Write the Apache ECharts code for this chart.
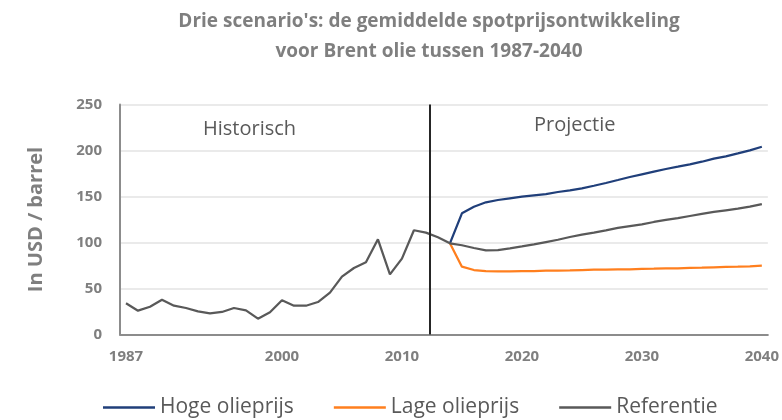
<!DOCTYPE html>
<html>
<head>
<meta charset="utf-8">
<script src="https://cdn.jsdelivr.net/npm/echarts@6/dist/echarts.min.js"></script>
<style>html,body{margin:0;padding:0;background:#fff}#c{width:782px;height:420px}</style>
</head>
<body>
<div id="c"></div>
<script>
// ---- data ----
var refYears = [];
for (var y = 1987; y <= 2040; y++) refYears.push(y);
var referentie = [33.9, 25.9, 30.2, 37.8, 31.3, 28.8, 25.2, 23.0, 24.5, 28.8,
  26.3, 17.2, 24.1, 37.2, 31.3, 31.3, 35.3, 45.5, 62.9, 72.3,
  78.5, 103.5, 65.4, 82.5, 113.3, 110.7, 105.7, 99.1,
  97.0, 94.0, 91.5, 91.8, 93.7, 95.8, 98.0, 100.5, 103.0, 106.0,
  108.5, 110.7, 113.2, 115.8, 117.9, 119.8, 122.3, 124.5, 126.6, 128.8,
  131.0, 133.2, 135.0, 136.8, 138.9, 141.8];
var projYears = [];
for (var p = 2014; p <= 2040; p++) projYears.push(p);
var hoge = [99.1, 131.7, 138.9, 143.7, 146.2, 148.0, 149.8, 151.3, 152.7, 154.9,
  156.7, 158.9, 161.7, 164.7, 167.9, 171.2, 174.1, 177.0, 179.9, 182.4,
  185.0, 187.8, 191.1, 193.7, 196.9, 200.2, 204.1];
var lage = [99.1, 73.7, 70.1, 69.0, 68.7, 68.7, 69.0, 69.0, 69.4, 69.4,
  69.7, 70.1, 70.5, 70.5, 70.8, 70.8, 71.2, 71.5, 71.9, 71.9,
  72.3, 72.6, 73.0, 73.4, 73.7, 74.1, 74.8];
var xTickLabels = [1987, 2000, 2010, 2020, 2030, 2040];
var dividerYear = 2012.35;
var seriesNames = ['Hoge olieprijs', 'Lage olieprijs', 'Referentie'];
var titleText = "Drie scenario's: de gemiddelde spotprijsontwikkeling\nvoor Brent olie tussen 1987-2040";
var yName = 'In USD / barrel';
var sectionLabels = ['Historisch', 'Projectie'];

function pairs(xs, ys) { return xs.map(function (x, i) { return [x, ys[i]]; }); }

var FONT = '"Open Sans", "Liberation Sans", sans-serif';
var chart = echarts.init(document.getElementById('c'), null, {renderer: 'canvas'});
chart.setOption({
  animation: false,
  backgroundColor: '#ffffff',
  title: {
    text: titleText,
    left: 424, textAlign: 'center', top: 2,
    textStyle: {fontFamily: FONT, fontWeight: 'bold', fontSize: 19, color: '#7f7f7f', lineHeight: 30}
  },
  grid: {left: 120, right: 13, top: 104.5, bottom: 85.5, containLabel: false},
  legend: {
    data: seriesNames,
    left: 98, top: 397, padding: [0, 5],
    icon: 'rect',
    itemWidth: 52, itemHeight: 2.5, itemGap: 40,
    textStyle: {fontFamily: FONT, fontSize: 21, color: '#595959'}
  },
  xAxis: {
    type: 'value', min: 1986.5, max: 2040.5,
    splitLine: {show: false},
    axisLine: {show: true, onZero: false, lineStyle: {color: '#8c8c8c', width: 2}},
    axisTick: {show: false},
    axisLabel: {
      customValues: xTickLabels, margin: 15,
      fontFamily: FONT, fontWeight: 'bold', fontSize: 15, color: '#7f7f7f',
      formatter: function (v) { return String(v); }
    }
  },
  yAxis: {
    type: 'value', min: 0, max: 250, interval: 50,
    name: yName, nameLocation: 'middle', nameGap: 74,
    nameTextStyle: {fontFamily: FONT, fontWeight: 'bold', fontSize: 20, color: '#7f7f7f'},
    axisLine: {show: true, lineStyle: {color: '#8c8c8c', width: 2}},
    axisTick: {show: false},
    splitLine: {lineStyle: {color: '#e3e3e3', width: 1.5}},
    axisLabel: {margin: 18, fontFamily: FONT, fontWeight: 'bold', fontSize: 15, color: '#7f7f7f'}
  },
  graphic: [
    {type: 'text', left: 203, top: 119, style: {text: sectionLabels[0], font: '20px ' + FONT, fill: '#595959'}},
    {type: 'text', left: 534, top: 115.5, style: {text: sectionLabels[1], font: '20px ' + FONT, fill: '#595959'}}
  ],
  series: [
    {name: seriesNames[0], type: 'line', data: pairs(projYears, hoge), showSymbol: false, symbol: 'none',
     lineStyle: {color: '#203f7a', width: 2.25}, itemStyle: {color: '#203f7a'}, z: 2},
    {name: seriesNames[1], type: 'line', data: pairs(projYears, lage), showSymbol: false, symbol: 'none',
     lineStyle: {color: '#ff7f1e', width: 2.25}, itemStyle: {color: '#ff7f1e'}, z: 2},
    {name: seriesNames[2], type: 'line', data: pairs(refYears, referentie), showSymbol: false, symbol: 'none',
     lineStyle: {color: '#595959', width: 2.25}, itemStyle: {color: '#595959'}, z: 3,
     markLine: {silent: true, symbol: 'none', label: {show: false},
       lineStyle: {color: '#262626', width: 2, type: 'solid'},
       data: [{xAxis: dividerYear}]}}
  ]
});
</script>
</body>
</html>
